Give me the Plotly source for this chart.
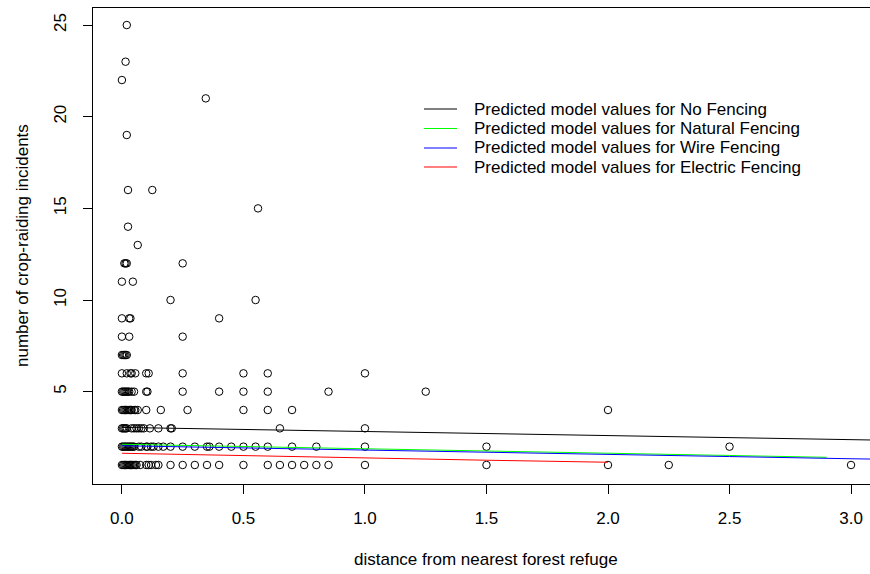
import plotly.graph_objects as go

# ---------------- data ----------------
# observed points: distance (x) and number of incidents (y)
obs_x = [
    0.02, 0.015, 0.0, 0.345, 0.02, 0.025, 0.125, 0.56, 0.025, 0.065,
    0.01, 0.015, 0.02, 0.25,
    0.0, 0.045,
    0.2, 0.55,
    0.0, 0.03, 0.035, 0.40,
    0.0, 0.03, 0.25,
    0.0, 0.005, 0.01, 0.015, 0.02,
    0.0, 0.02, 0.035, 0.04, 0.055, 0.10, 0.11, 0.25, 0.5, 0.6, 1.0,
    0.0, 0.005, 0.01, 0.015, 0.02, 0.025, 0.03, 0.04, 0.05, 0.10, 0.105, 0.25, 0.40, 0.5, 0.6, 0.85, 1.25,
    0.0, 0.005, 0.01, 0.015, 0.02, 0.025, 0.03, 0.035, 0.04, 0.05, 0.055, 0.065, 0.10, 0.16, 0.27,
    0.5, 0.6, 0.70, 2.0,
    0.0, 0.005, 0.01, 0.015, 0.02, 0.04, 0.05, 0.06, 0.07, 0.08, 0.09, 0.115, 0.15, 0.20, 0.205, 0.65, 1.0,
    0.0, 0.005, 0.01, 0.015, 0.02, 0.025, 0.03, 0.035, 0.04, 0.045, 0.05, 0.07, 0.08, 0.10, 0.105,
    0.12, 0.13, 0.15, 0.17, 0.20, 0.25, 0.30, 0.35, 0.36, 0.40, 0.45, 0.5, 0.55, 0.6, 0.70, 0.80,
    1.0, 1.5, 2.5,
    0.0, 0.005, 0.01, 0.015, 0.02, 0.025, 0.03, 0.035, 0.04, 0.045, 0.05, 0.055, 0.06, 0.075, 0.10,
    0.11, 0.12, 0.14, 0.15, 0.20, 0.25, 0.30, 0.35, 0.40, 0.5, 0.6, 0.65, 0.70, 0.75, 0.80, 0.85,
    1.0, 1.5, 2.0, 2.25, 3.0,
]
obs_y = [
    25, 23, 22, 21, 19, 16, 16, 15, 14, 13,
    12, 12, 12, 12,
    11, 11,
    10, 10,
    9, 9, 9, 9,
    8, 8, 8,
    7, 7, 7, 7, 7,
    6, 6, 6, 6, 6, 6, 6, 6, 6, 6, 6,
    5, 5, 5, 5, 5, 5, 5, 5, 5, 5, 5, 5, 5, 5, 5, 5, 5,
    4, 4, 4, 4, 4, 4, 4, 4, 4, 4, 4, 4, 4, 4, 4,
    4, 4, 4, 4,
    3, 3, 3, 3, 3, 3, 3, 3, 3, 3, 3, 3, 3, 3, 3, 3, 3,
    2, 2, 2, 2, 2, 2, 2, 2, 2, 2, 2, 2, 2, 2, 2,
    2, 2, 2, 2, 2, 2, 2, 2, 2, 2, 2, 2, 2, 2, 2, 2,
    2, 2, 2,
    1, 1, 1, 1, 1, 1, 1, 1, 1, 1, 1, 1, 1, 1, 1,
    1, 1, 1, 1, 1, 1, 1, 1, 1, 1, 1, 1, 1, 1, 1, 1,
    1, 1, 1, 1, 1,
]

# predicted model values per fencing type
no_fence_x = [0.0, 0.5, 1.0, 1.5, 2.0, 2.5, 3.0, 3.1]
no_fence_y = [3.05, 2.94, 2.84, 2.73, 2.62, 2.50, 2.38, 2.36]
natural_x = [0.0, 0.5, 1.0, 1.5, 2.0, 2.5, 2.9]
natural_y = [2.13, 2.00, 1.88, 1.76, 1.65, 1.52, 1.42]
wire_x = [0.0, 0.5, 1.0, 1.5, 2.0, 2.5, 3.0, 3.1]
wire_y = [2.05, 1.94, 1.82, 1.70, 1.58, 1.46, 1.34, 1.32]
electric_x = [0.0, 0.5, 1.0, 1.5, 2.0]
electric_y = [1.64, 1.50, 1.37, 1.26, 1.15]

legend_labels = [
    "Predicted model values for No Fencing",
    "Predicted model values for Natural Fencing",
    "Predicted model values for Wire Fencing",
    "Predicted model values for Electric Fencing",
]
line_colors = ["#000000", "#00FF00", "#0000FF", "#FF0000"]

x_ticks = [0.0, 0.5, 1.0, 1.5, 2.0, 2.5, 3.0]
y_ticks = [5, 10, 15, 20, 25]
x_title = "distance from nearest forest refuge"
y_title = "number of crop-raiding incidents"

# ---------------- figure ----------------
FONT = "Liberation Sans, Arial, sans-serif"
FS = 17
W, H = 870, 574
ML, MR, MT, MB = 93, 0, 8, 90
PW, PH = W - ML - MR, H - MT - MB


def px_to_paper(px, py):
    return (px - ML) / PW, (H - MB - py) / PH


fig = go.Figure()
fig.add_trace(go.Scatter(
    x=obs_x, y=obs_y, mode="markers", name="observed",
    marker=dict(symbol="circle-open", size=7.5, color="#000000",
                line=dict(width=1, color="#000000")),
    hoverinfo="x+y", showlegend=False,
))
series = [(no_fence_x, no_fence_y), (natural_x, natural_y),
          (wire_x, wire_y), (electric_x, electric_y)]
for (sx, sy), lab, col in zip(series, legend_labels, line_colors):
    fig.add_trace(go.Scatter(
        x=sx, y=sy, mode="lines", name=lab,
        line=dict(color=col, width=1), showlegend=False,
    ))

# legend drawn like R's bty="n" legend
shapes = []
annotations = []
row_py = [109, 128.5, 148, 167]
for lab, col, py in zip(legend_labels, line_colors, row_py):
    x0, y0 = px_to_paper(424, py)
    x1, _ = px_to_paper(457, py)
    shapes.append(dict(type="line", xref="paper", yref="paper",
                       x0=x0, x1=x1, y0=y0, y1=y0,
                       line=dict(color=col, width=1)))
    tx, ty = px_to_paper(472, py)
    annotations.append(dict(text=lab, xref="paper", yref="paper", x=tx, y=ty,
                            xanchor="left", yanchor="middle", showarrow=False,
                            font=dict(family=FONT, size=FS, color="#000000")))

# axis titles
tx, ty = px_to_paper(486, 560)
annotations.append(dict(text=x_title, xref="paper", yref="paper", x=tx, y=ty,
                        xanchor="center", yanchor="middle", showarrow=False,
                        font=dict(family=FONT, size=FS, color="#000000")))
tx, ty = px_to_paper(22, 246)
annotations.append(dict(text=y_title, xref="paper", yref="paper", x=tx, y=ty,
                        xanchor="center", yanchor="middle", showarrow=False,
                        textangle=-90,
                        font=dict(family=FONT, size=FS, color="#000000")))

fig.update_layout(
    width=W, height=H,
    margin=dict(l=ML, r=MR, t=MT, b=MB, pad=0),
    paper_bgcolor="white", plot_bgcolor="white",
    font=dict(family=FONT, size=FS, color="#000000"),
    showlegend=False,
    shapes=shapes, annotations=annotations,
    xaxis=dict(
        range=[-0.119, 3.078], tickvals=x_ticks, tickformat=".1f",
        showgrid=False, zeroline=False, showline=True, linecolor="#000000",
        linewidth=1, mirror=True, ticks="outside", ticklen=9, tickwidth=1,
        tickcolor="#000000", ticklabelstandoff=10,
    ),
    yaxis=dict(
        range=[-0.037, 25.93], tickvals=y_ticks, tickangle=-90,
        showgrid=False, zeroline=False, showline=True, linecolor="#000000",
        linewidth=1, ticks="outside", ticklen=9, tickwidth=1,
        tickcolor="#000000", ticklabelstandoff=10,
    ),
)

fig.write_html(
    "out.html",
    config={"displayModeBar": False},
    post_script="document.body.style.margin='0';document.body.style.padding='0';"
                "document.body.style.overflow='hidden';",
)
